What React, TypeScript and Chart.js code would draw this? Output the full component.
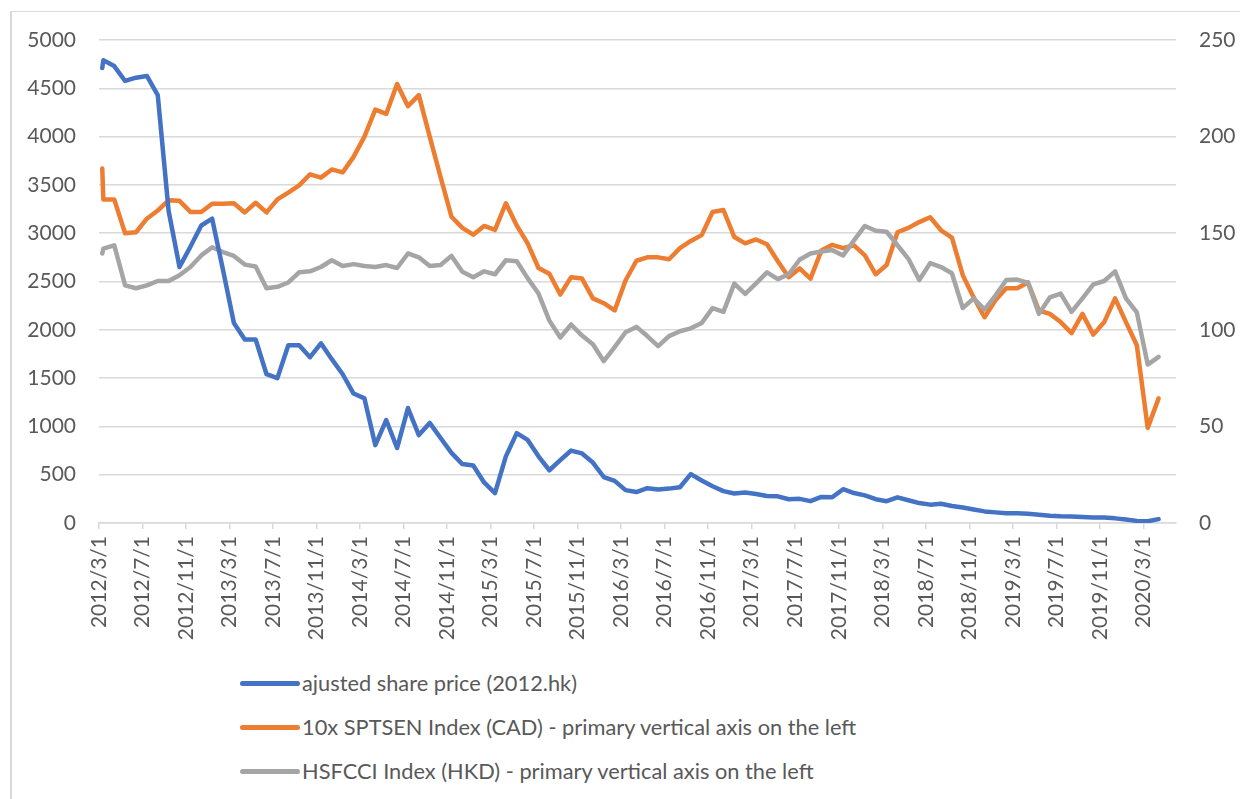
import React, { useEffect, useRef } from "react";
import { Chart, registerables } from "chart.js";

Chart.register(...registerables);

// ---- data ----
const TICK_LABELS = [
  "2012/3/1", "2012/7/1", "2012/11/1", "2013/3/1", "2013/7/1", "2013/11/1",
  "2014/3/1", "2014/7/1", "2014/11/1", "2015/3/1", "2015/7/1", "2015/11/1",
  "2016/3/1", "2016/7/1", "2016/11/1", "2017/3/1", "2017/7/1", "2017/11/1",
  "2018/3/1", "2018/7/1", "2018/11/1", "2019/3/1", "2019/7/1", "2019/11/1",
  "2020/3/1",
];
const MONTHS_PER_TICK = 4;
const AXIS_MONTHS = 99; // 2012/3/1 .. 2020/6/1
const OPEN_OFFSET = 0.3; // first (opening) observation, months after 2012/3/1
const POINT_OFFSET = 0.4; // monthly observations, months after each month start

const SERIES_NAMES = [
  "ajusted share price (2012.hk)",
  "10x SPTSEN Index (CAD) - primary vertical axis on the left",
  "HSFCCI Index (HKD) - primary vertical axis on the left",
];
const SERIES_COLORS = ["#4472C4", "#ED7D31", "#A5A5A5"];

// adjusted share price (secondary axis, right)
const SHARE_PRICE_OPEN = 235.5;
const SHARE_PRICE = [
  239.5, 236.5, 228.8, 230.5, 231.4, 221.5, 161.5, 132.5, 143, 154,
  157.5, 131, 103.5, 95, 95, 77, 75, 92, 92, 85.8,
  93, 84.8, 77, 67, 64.5, 40.3, 53.3, 38.8, 59.5, 45.5,
  51.8, 44, 36.3, 30.5, 29.8, 21, 15.5, 34.5, 46.5, 43,
  34.5, 27.3, 32.5, 37.5, 36, 31.3, 23.8, 21.8, 17, 16,
  18, 17.3, 17.8, 18.5, 25.3, 22, 19, 16.5, 15.3, 15.8,
  15, 14, 13.8, 12.3, 12.5, 11.3, 13.5, 13.3, 17.5, 15.5,
  14.3, 12.3, 11.3, 13.3, 11.8, 10.3, 9.5, 10, 8.8, 8,
  7, 6, 5.5, 5, 5, 4.8, 4.3, 3.8, 3.5, 3.4,
  3.1, 2.8, 2.8, 2.4, 1.8, 1.1, 0.9, 2,
];

// 10x SPTSEN index (primary axis, left)
const SPTSEN_OPEN = 3670;
const SPTSEN_X10 = [
  3350, 3350, 3000, 3010, 3150, 3235, 3340, 3335, 3220, 3220,
  3305, 3305, 3310, 3215, 3315, 3215, 3350, 3420, 3495, 3610,
  3575, 3660, 3630, 3790, 4000, 4280, 4235, 4545, 4315, 4430,
  4000, 3580, 3170, 3055, 2985, 3075, 3035, 3310, 3080, 2895,
  2640, 2580, 2365, 2545, 2530, 2325, 2275, 2200, 2510, 2715,
  2750, 2750, 2730, 2845, 2920, 2980, 3220, 3240, 2960, 2895,
  2935, 2885, 2710, 2545, 2635, 2530, 2820, 2880, 2845, 2875,
  2770, 2575, 2670, 3010, 3055, 3115, 3165, 3030, 2955, 2565,
  2335, 2130, 2305, 2430, 2430, 2490, 2200, 2165, 2080, 1965,
  2165, 1950, 2080, 2325, 2080, 1840, 985, 1290,
];

// HSFCCI index (primary axis, left)
const HSFCCI_OPEN = 2790;
const HSFCCI = [
  2840, 2875, 2460, 2430, 2460, 2505, 2505, 2565, 2650, 2770,
  2855, 2805, 2765, 2675, 2655, 2430, 2445, 2490, 2595, 2605,
  2650, 2720, 2660, 2680, 2660, 2650, 2670, 2640, 2790, 2750,
  2660, 2670, 2765, 2600, 2545, 2605, 2575, 2720, 2710, 2535,
  2375, 2095, 1920, 2055, 1940, 1850, 1675, 1820, 1975, 2030,
  1935, 1830, 1935, 1985, 2015, 2070, 2225, 2185, 2478, 2372,
  2480, 2595, 2525, 2575, 2725, 2790, 2810, 2825, 2770, 2925,
  3075, 3025, 3015, 2875, 2735, 2515, 2690, 2650, 2585, 2225,
  2325, 2210, 2355, 2515, 2520, 2485, 2165, 2335, 2375, 2185,
  2325, 2470, 2505, 2605, 2325, 2180, 1640, 1720,
];

const FONT = "Lato, 'Noto Sans', sans-serif";
const TEXT_COLOR = "#595959";
const GRID_COLOR = "#d9d9d9";

function toPoints(open: number, values: number[]) {
  return [
    { x: OPEN_OFFSET, y: open },
    ...values.map((y, i) => ({ x: i + POINT_OFFSET, y })),
  ];
}

export default function App() {
  const canvasRef = useRef<HTMLCanvasElement | null>(null);

  useEffect(() => {
    const canvas = canvasRef.current;
    if (!canvas) return;
    const lineStyle = {
      borderWidth: 4.5,
      pointRadius: 0,
      pointHoverRadius: 0,
      tension: 0,
      borderCapStyle: "round" as const,
      borderJoinStyle: "round" as const,
      fill: false,
    };
    const chart = new Chart(canvas, {
      type: "line",
      data: {
        datasets: [
          {
            label: SERIES_NAMES[0],
            data: toPoints(SHARE_PRICE_OPEN, SHARE_PRICE),
            borderColor: SERIES_COLORS[0],
            backgroundColor: SERIES_COLORS[0],
            yAxisID: "y2",
            order: 0,
            ...lineStyle,
          },
          {
            label: SERIES_NAMES[1],
            data: toPoints(SPTSEN_OPEN, SPTSEN_X10),
            borderColor: SERIES_COLORS[1],
            backgroundColor: SERIES_COLORS[1],
            yAxisID: "y",
            order: 2,
            ...lineStyle,
          },
          {
            label: SERIES_NAMES[2],
            data: toPoints(HSFCCI_OPEN, HSFCCI),
            borderColor: SERIES_COLORS[2],
            backgroundColor: SERIES_COLORS[2],
            yAxisID: "y",
            order: 1,
            ...lineStyle,
          },
        ],
      },
      options: {
        animation: false,
        responsive: false,
        maintainAspectRatio: false,
        devicePixelRatio: 1,
        parsing: false as any,
        layout: { padding: { top: 40, left: 0, right: 0, bottom: 0 } },
        plugins: {
          legend: { display: false },
          tooltip: { enabled: false },
        },
        scales: {
          x: {
            type: "linear",
            position: "bottom",
            min: 0,
            max: AXIS_MONTHS,
            afterBuildTicks: (scale: any) => {
              scale.ticks = TICK_LABELS.map((_, i) => ({ value: i * MONTHS_PER_TICK }));
            },
            afterFit: (scale: any) => {
              scale.height = 138;
              scale.paddingLeft = 0;
              scale.paddingRight = 0;
            },
            ticks: {
              autoSkip: false,
              maxRotation: 90,
              minRotation: 90,
              padding: 7,
              color: TEXT_COLOR,
              font: { family: FONT, size: 21 },
              callback: (value: any) => TICK_LABELS[Math.round(Number(value) / MONTHS_PER_TICK)] ?? "",
            },
            grid: {
              drawOnChartArea: false,
              drawTicks: true,
              tickLength: 6,
              color: GRID_COLOR,
              lineWidth: 1.5,
            },
            border: { display: true, color: GRID_COLOR, width: 1.5 },
          },
          y: {
            type: "linear",
            position: "left",
            min: 0,
            max: 5000,
            afterFit: (scale: any) => {
              scale.width = 99;
              scale.paddingTop = 0;
              scale.paddingBottom = 0;
            },
            ticks: {
              stepSize: 500,
              padding: 23,
              color: TEXT_COLOR,
              font: { family: FONT, size: 21 },
              callback: (value: any) => String(value),
            },
            grid: { color: GRID_COLOR, lineWidth: 1.5, drawTicks: false },
            border: { display: false },
          },
          y2: {
            type: "linear",
            position: "right",
            min: 0,
            max: 250,
            afterFit: (scale: any) => {
              scale.width = 64;
              scale.paddingTop = 0;
              scale.paddingBottom = 0;
            },
            ticks: {
              stepSize: 50,
              padding: 23,
              color: TEXT_COLOR,
              font: { family: FONT, size: 21 },
              callback: (value: any) => String(value),
            },
            grid: { display: false, drawTicks: false, drawOnChartArea: false },
            border: { display: false },
          },
        },
      } as any,
    });
    return () => chart.destroy();
  }, []);

  const legendY = [683, 727, 771];

  return (
    <div
      style={{
        position: "absolute",
        left: 0,
        top: 0,
        width: 1240,
        height: 799,
        overflow: "hidden",
        background: "#ffffff",
      }}
    >
      <div
        style={{
          position: "absolute",
          left: 10,
          top: 11,
          width: 1260,
          height: 820,
          borderLeft: "2px solid #d9d9d9",
          borderTop: "1px solid #d9d9d9",
          boxSizing: "border-box",
        }}
      />
      <canvas
        ref={canvasRef}
        width={1240}
        height={661}
        style={{ position: "absolute", left: 0, top: 0, width: 1240, height: 661 }}
      />
      {SERIES_NAMES.map((name, i) => (
        <div key={name}>
          <div
            style={{
              position: "absolute",
              left: 240,
              top: legendY[i] - 2.5,
              width: 60,
              height: 5,
              borderRadius: 3,
              background: SERIES_COLORS[i],
            }}
          />
          <div
            style={{
              position: "absolute",
              left: 302,
              top: legendY[i] - 14,
              height: 28,
              lineHeight: "28px",
              fontFamily: FONT,
              fontSize: 21.8,
              color: TEXT_COLOR,
              whiteSpace: "nowrap",
            }}
          >
            {name}
          </div>
        </div>
      ))}
    </div>
  );
}
